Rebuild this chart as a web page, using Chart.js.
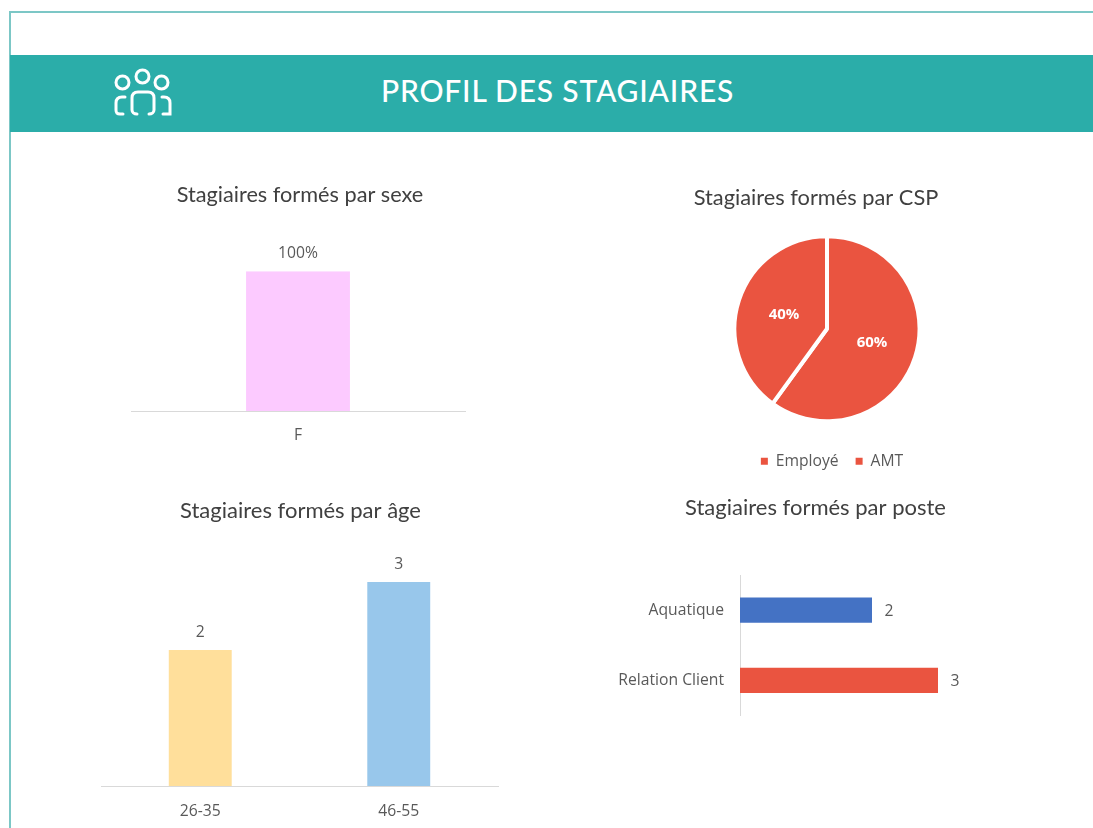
<!DOCTYPE html>
<html>
<head>
<meta charset="utf-8">
<title>Profil des stagiaires</title>
<script src="https://cdn.jsdelivr.net/npm/chart.js@4/dist/chart.umd.min.js"></script>
<style>
  html, body { margin: 0; padding: 0; background: #fff; }
  body { position: relative; width: 1093px; height: 828px; overflow: hidden; }
  .frame { position: absolute; left: 9px; top: 11px; width: 1200px; height: 1000px; border: 2px solid #7cc7c6; }
  .band { position: absolute; left: 10px; top: 55px; width: 1083px; height: 77px; background: #2badA9; }
  .band h1 { position: absolute; left: 371px; top: 17px; margin: 0; color: #fff; font: 500 30px Lato, sans-serif; letter-spacing: 0.8px; white-space: nowrap; }
  .band svg { position: absolute; left: 103px; top: 12px; }
  canvas { position: absolute; }
</style>
</head>
<body>
<div class="frame"></div>
<div class="band">
  <svg width="60" height="52" viewBox="0 0 60 52" fill="none" stroke="#fff" stroke-width="3" stroke-linecap="round">
    <circle cx="29.5" cy="9.5" r="6.5"/>
    <circle cx="9.5" cy="15.5" r="6.5"/>
    <circle cx="48.5" cy="15.5" r="6.5"/>
    <path d="M24 47c-3 0-5-2-5-4V31c0-4 2-6 6-6h10c4 0 6 2 6 6v12c0 2-2 4-5 4"/>
    <path d="M12 30h-3c-4 0-6 2-6 6v7c0 3 1 4 4 4h3"/>
    <path d="M49 30h2c4 0 6 2 6 6v11h-7"/>
  </svg>
  <h1>PROFIL DES STAGIAIRES</h1>
</div>
<canvas id="sexeChart" style="left:100px;top:176px;width:400px;height:274px"></canvas>
<canvas id="cspChart" style="left:677px;top:179px;width:300px;height:307px"></canvas>
<canvas id="ageChart" style="left:72px;top:492px;width:460px;height:336px"></canvas>
<canvas id="posteChart" style="left:590px;top:489px;width:450px;height:252px"></canvas>

<script>
const sexeCategories = ["F"];
const sexeValues = [100];
const cspCategories = ["Employé", "AMT"];
const cspValues = [60, 40];
const ageCategories = ["26-35", "46-55"];
const ageValues = [2, 3];
const posteCategories = ["Aquatique", "Relation Client"];
const posteValues = [2, 3];

const TEXT = "#595959";
const AXIS = "#d9d9d9";
const RED = "#ea5440";
const TICK_FONT = { family: "'Open Sans', sans-serif", size: 15.7 };
const LABEL_FONT = "15.7px 'Open Sans', sans-serif";

// draws value labels next to each mark, chart.js has no built in for this
function valueLabels(suffix, color, font, dx, dy) {
  return {
    id: "valueLabels",
    afterDatasetsDraw(chart) {
      const ctx = chart.ctx;
      const meta = chart.getDatasetMeta(0);
      ctx.save();
      ctx.fillStyle = color;
      ctx.font = font;
      ctx.textAlign = "center";
      ctx.textBaseline = "middle";
      meta.data.forEach((el, i) => {
        const p = meta.type === "pie" ? el.getCenterPoint() : el.getProps(["x", "y"], true);
        ctx.fillText(chart.data.datasets[0].data[i] + suffix, p.x + dx, p.y + dy);
      });
      ctx.restore();
    },
  };
}

// title and legend are centred on the chart, here they sit a bit off centre
function shiftBlocks(titleDx, legendDx, legendDy) {
  return {
    id: "shiftBlocks",
    afterLayout(chart) {
      chart.titleBlock.left += titleDx;
      chart.titleBlock.right += titleDx;
      if (legendDx || legendDy) {
        chart.legend.left += legendDx;
        chart.legend.right += legendDx;
        chart.legend.top += legendDy;
        chart.legend.bottom += legendDy;
      }
    },
  };
}

function titleOpts(text, size, bottom) {
  return {
    display: true,
    text: text,
    color: "#404040",
    font: { family: "Lato, sans-serif", size: size, weight: "normal", lineHeight: 1.2 },
    padding: { top: 6, bottom: bottom },
  };
}

function sizeCanvas(id) {
  const c = document.getElementById(id);
  c.width = parseInt(c.style.width);
  c.height = parseInt(c.style.height);
  return c;
}

function xAxis(height, pad) {
  return {
    grid: { display: false, drawTicks: false },
    border: { display: true, color: AXIS, width: 1 },
    ticks: { color: TEXT, font: TICK_FONT, padding: pad },
    afterFit(scale) { scale.height = height; },
  };
}

new Chart(sizeCanvas("sexeChart"), {
  type: "bar",
  data: {
    labels: sexeCategories,
    datasets: [{ data: sexeValues, backgroundColor: "#fccaff", barPercentage: 0.311, categoryPercentage: 1 }],
  },
  options: {
    responsive: false,
    animation: false,
    layout: { padding: { left: 31, right: 35, top: 0, bottom: 0 } },
    plugins: { legend: { display: false }, tooltip: { enabled: false }, title: titleOpts("Stagiaires formés par sexe", 21.7, 63.2) },
    scales: { x: xAxis(39, 15), y: { display: false, min: 0, max: 100 } },
  },
  plugins: [valueLabels("%", TEXT, LABEL_FONT, 0, -18), shiftBlocks(2, 0, 0)],
});

new Chart(sizeCanvas("cspChart"), {
  type: "pie",
  data: {
    labels: cspCategories,
    datasets: [{ data: cspValues, backgroundColor: [RED, RED], borderColor: "#fff", borderWidth: 4 }],
  },
  options: {
    responsive: false,
    animation: false,
    layout: { padding: { left: 0, right: 0, top: 0, bottom: 20 } },
    plugins: {
      tooltip: { enabled: false },
      title: titleOpts("Stagiaires formés par CSP", 21.8, 23),
      legend: {
        position: "bottom",
        labels: {
          color: TEXT,
          font: TICK_FONT,
          boxWidth: 7,
          boxHeight: 7,
          padding: 17,
          generateLabels(chart) {
            return Chart.overrides.pie.plugins.legend.labels.generateLabels(chart).map((item) => ({ ...item, lineWidth: 0 }));
          },
        },
      },
    },
  },
  plugins: [valueLabels("%", "#fff", "bold 15px 'Open Sans', sans-serif", 1, 0), shiftBlocks(-11, 5, 13)],
});

new Chart(sizeCanvas("ageChart"), {
  type: "bar",
  data: {
    labels: ageCategories,
    datasets: [{ data: ageValues, backgroundColor: ["#ffdf9b", "#98c7eb"], barPercentage: 0.317, categoryPercentage: 1 }],
  },
  options: {
    responsive: false,
    animation: false,
    layout: { padding: { left: 29, right: 34, top: 0, bottom: 0 } },
    plugins: { legend: { display: false }, tooltip: { enabled: false }, title: titleOpts("Stagiaires formés par âge", 22, 23.6) },
    scales: { x: xAxis(42, 16), y: { display: false, min: 0, max: 3.5 } },
  },
  plugins: [valueLabels("", TEXT, LABEL_FONT, 0, -17), shiftBlocks(1, 0, 0)],
});

new Chart(sizeCanvas("posteChart"), {
  type: "bar",
  data: {
    labels: posteCategories,
    datasets: [{ data: posteValues, backgroundColor: ["#4472c4", RED], barPercentage: 0.36, categoryPercentage: 1 }],
  },
  options: {
    responsive: false,
    animation: false,
    indexAxis: "y",
    layout: { padding: { left: 0, right: 69, top: 0, bottom: 5 } },
    plugins: { legend: { display: false }, tooltip: { enabled: false }, title: titleOpts("Stagiaires formés par poste", 22, 53.6) },
    scales: {
      x: { display: false, min: 0, max: 3.5 },
      y: {
        grid: { display: false, drawTicks: false },
        border: { display: true, color: AXIS, width: 1 },
        ticks: { color: TEXT, font: TICK_FONT, padding: 16 },
        afterFit(scale) { scale.width = 150; },
      },
    },
  },
  plugins: [valueLabels("", TEXT, LABEL_FONT, 17, 1), shiftBlocks(35, 0, 0)],
});
</script>
</body>
</html>
